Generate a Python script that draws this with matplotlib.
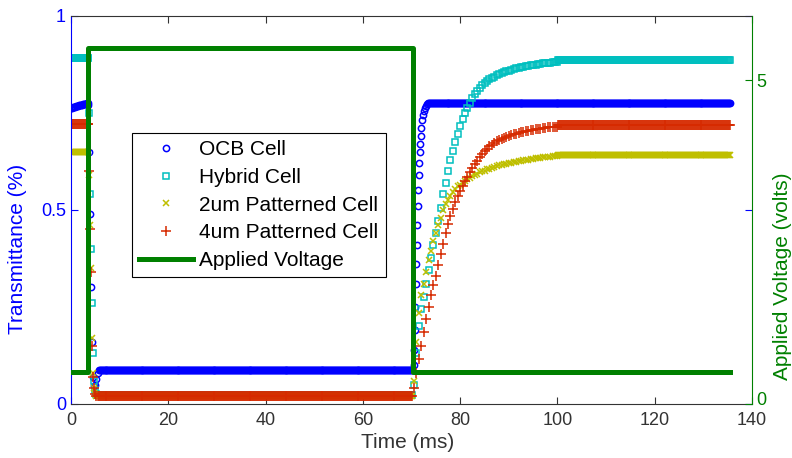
import numpy as np
import matplotlib.pyplot as plt
from matplotlib.transforms import ScaledTranslation

plt.rcParams['font.family'] = ['Liberation Sans', 'DejaVu Sans']

# sample times (ms)
t_start = np.arange(0, 3.5, 0.2)
t_fall = np.array([3.6, 3.8, 4.0, 4.2, 4.4, 4.6, 4.8, 5.0, 5.2, 5.5])
t_on = np.arange(5.7, 70.21, 0.2)
t_rise = np.arange(70.5, 100.01, 0.5)
t_end = np.arange(100.2, 135.51, 0.2)
t_ocb_rise = np.array([70.5, 70.6, 70.7, 70.8, 70.9, 71.0, 71.1, 71.2, 71.3, 71.4,
                       71.5, 71.6, 71.7, 71.8, 71.9, 72.0, 72.2, 72.4, 72.6, 72.8,
                       73.0, 73.2, 73.4, 73.6])
t_ocb_end = np.arange(73.8, 135.51, 0.2)

# OCB cell transmittance
ocb_start = [0.762, 0.763, 0.764, 0.764, 0.765, 0.766, 0.767, 0.768, 0.769,
             0.770, 0.770, 0.771, 0.772, 0.772, 0.773, 0.773, 0.774, 0.774]
ocb_fall = [0.77, 0.65, 0.49, 0.30, 0.16, 0.07, 0.045, 0.05, 0.065, 0.08]
ocb_on = 0.088
ocb_rise = [0.10, 0.14, 0.19, 0.25, 0.31, 0.36, 0.41, 0.46, 0.51, 0.55,
            0.59, 0.62, 0.65, 0.67, 0.69, 0.71, 0.73, 0.745, 0.755, 0.763,
            0.768, 0.772, 0.775, 0.776]
ocb_end = 0.776

# Hybrid cell
hyb_start = 0.89
hyb_fall = [0.89, 0.75, 0.54, 0.40, 0.26, 0.13, 0.06, 0.035, 0.025, 0.022]
hyb_on = 0.022
hyb_rise = [0.05, 0.13, 0.20, 0.245, 0.275, 0.31, 0.345, 0.375, 0.41, 0.44,
            0.47, 0.505, 0.54, 0.57, 0.60, 0.628, 0.652, 0.675, 0.695, 0.715,
            0.733, 0.75, 0.763, 0.776, 0.787, 0.797, 0.806, 0.814, 0.82, 0.826,
            0.831, 0.836, 0.84, 0.843, 0.846, 0.849, 0.852, 0.854, 0.856, 0.858,
            0.86, 0.862, 0.864, 0.865, 0.867, 0.868, 0.87, 0.871, 0.872, 0.873,
            0.874, 0.875, 0.876, 0.877, 0.878, 0.879, 0.879, 0.88, 0.88, 0.881]
hyb_end = 0.885

# 2um patterned cell
p2_start = 0.65
p2_fall = [0.65, 0.59, 0.46, 0.35, 0.17, 0.08, 0.04, 0.025, 0.02, 0.02]
p2_on = 0.02
p2_rise = [0.06, 0.16, 0.235, 0.28, 0.31, 0.34, 0.37, 0.395, 0.42, 0.44,
           0.46, 0.48, 0.50, 0.515, 0.525, 0.535, 0.545, 0.553, 0.56, 0.565,
           0.57, 0.575, 0.579, 0.583, 0.587, 0.59, 0.593, 0.596, 0.599, 0.601,
           0.604, 0.606, 0.608, 0.61, 0.612, 0.614, 0.616, 0.617, 0.619, 0.62,
           0.621, 0.622, 0.623, 0.625, 0.626, 0.627, 0.628, 0.629, 0.63, 0.631,
           0.632, 0.633, 0.634, 0.635, 0.635, 0.636, 0.637, 0.638, 0.638, 0.639]
p2_end = 0.641

# 4um patterned cell
p4_start = 0.72
p4_fall = [0.72, 0.60, 0.45, 0.34, 0.15, 0.07, 0.04, 0.025, 0.02, 0.02]
p4_on = 0.02
p4_rise = [0.04, 0.08, 0.115, 0.15, 0.185, 0.22, 0.25, 0.28, 0.305, 0.33,
           0.358, 0.385, 0.413, 0.44, 0.463, 0.485, 0.503, 0.52, 0.535, 0.548,
           0.561, 0.573, 0.585, 0.597, 0.607, 0.617, 0.626, 0.635, 0.643, 0.651,
           0.657, 0.663, 0.668, 0.672, 0.676, 0.679, 0.682, 0.685, 0.688, 0.69,
           0.692, 0.694, 0.696, 0.697, 0.699, 0.70, 0.702, 0.703, 0.705, 0.706,
           0.707, 0.708, 0.709, 0.71, 0.711, 0.712, 0.712, 0.713, 0.714, 0.714]
p4_end = 0.718

# applied voltage
t_volt = [0, 3.5, 3.5, 70.4, 70.4, 135.5]
volt = [0.5, 0.5, 5.5, 5.5, 0.5, 0.5]


def cell(start, fall, on, rise, end):
    if np.isscalar(start):
        start = np.full(len(t_start), start)
    t = np.concatenate([t_start, t_fall, t_on, t_rise, t_end])
    v = np.concatenate([start, fall, np.full(len(t_on), on), rise,
                        np.full(len(t_end), end)])
    return t, v


t_ocb = np.concatenate([t_start, t_fall, t_on, t_ocb_rise, t_ocb_end])
v_ocb = np.concatenate([ocb_start, ocb_fall, np.full(len(t_on), ocb_on), ocb_rise,
                        np.full(len(t_ocb_end), ocb_end)])
t_hyb, v_hyb = cell(hyb_start, hyb_fall, hyb_on, hyb_rise, hyb_end)
t_p2, v_p2 = cell(p2_start, p2_fall, p2_on, p2_rise, p2_end)
t_p4, v_p4 = cell(p4_start, p4_fall, p4_on, p4_rise, p4_end)

blue = '#0000ff'
cyan = '#00bfbf'
yellow = '#bfbf00'
red = '#d62a00'
green = '#008000'
gray = '#333333'

fig = plt.figure(figsize=(7.92, 4.58), dpi=100)
ax = fig.add_axes([0.0896, 0.118, 0.860, 0.848])
ax2 = ax.twinx()

h1, = ax.plot(t_ocb, v_ocb, 'o', color=blue, mfc='none', ms=4.5, mew=1.1, label='OCB Cell')
h2, = ax.plot(t_hyb, v_hyb, 's', color=cyan, mfc='none', ms=4, mew=1.1, label='Hybrid Cell')
h3, = ax.plot(t_p2, v_p2, 'x', color=yellow, ms=4.5, mew=1.1, label='2um Patterned Cell')
h4, = ax.plot(t_p4, v_p4, '+', color=red, ms=6.5, mew=1.1, label='4um Patterned Cell')
h5, = ax2.plot(t_volt, volt, '-', color=green, lw=3.6, label='Applied Voltage')

ax.set_xlim(0, 140)
ax.set_ylim(0, 1)
ax2.set_ylim(0, 6)
ax.set_xticks(np.arange(0, 141, 20))
ax.set_yticks([0, 0.5, 1])
ax.set_yticklabels(['0', '0.5', '1'])
ax2.set_yticks([0, 5])

ax.tick_params(axis='x', direction='in', length=5, top=True, colors=gray, labelsize=13, pad=6)
ax.tick_params(axis='y', direction='in', length=5, right=True, colors=blue, labelsize=13)
ax2.tick_params(axis='y', direction='in', length=5, colors=green, labelsize=13, pad=3)

# right-hand "0" sits just above the "140" label, as in the original
zero_lab = ax2.get_yticklabels()[0]
zero_lab.set_transform(zero_lab.get_transform() + ScaledTranslation(0, 4 / 72, fig.dpi_scale_trans))

for s in ['top', 'bottom']:
    ax.spines[s].set_color(gray)
ax.spines['left'].set_color(blue)
ax.spines['right'].set_visible(False)
for s in ['top', 'bottom', 'left']:
    ax2.spines[s].set_visible(False)
ax2.spines['right'].set_color(green)

ax.set_xlabel('Time (ms)', fontsize=15, color=gray)
ax.xaxis.set_label_coords(0.494, -0.075)
ax.set_ylabel('Transmittance (%)', fontsize=15, color=blue)
ax.yaxis.set_label_coords(-0.064, 0.40)
ax2.set_ylabel('Applied Voltage (volts)', fontsize=15, color=green)
ax2.yaxis.set_label_coords(1.031, 0.33)

leg = ax2.legend(handles=[h1, h2, h3, h4, h5], loc='upper left',
                 bbox_to_anchor=(0.089, 0.698), borderaxespad=0, fontsize=15,
                 numpoints=1, handlelength=2.6, handletextpad=0.3, labelspacing=0.42,
                 borderpad=0.35, fancybox=False, framealpha=1, edgecolor='black')
leg.get_frame().set_linewidth(0.8)

fig.savefig('out.png', dpi=100)
